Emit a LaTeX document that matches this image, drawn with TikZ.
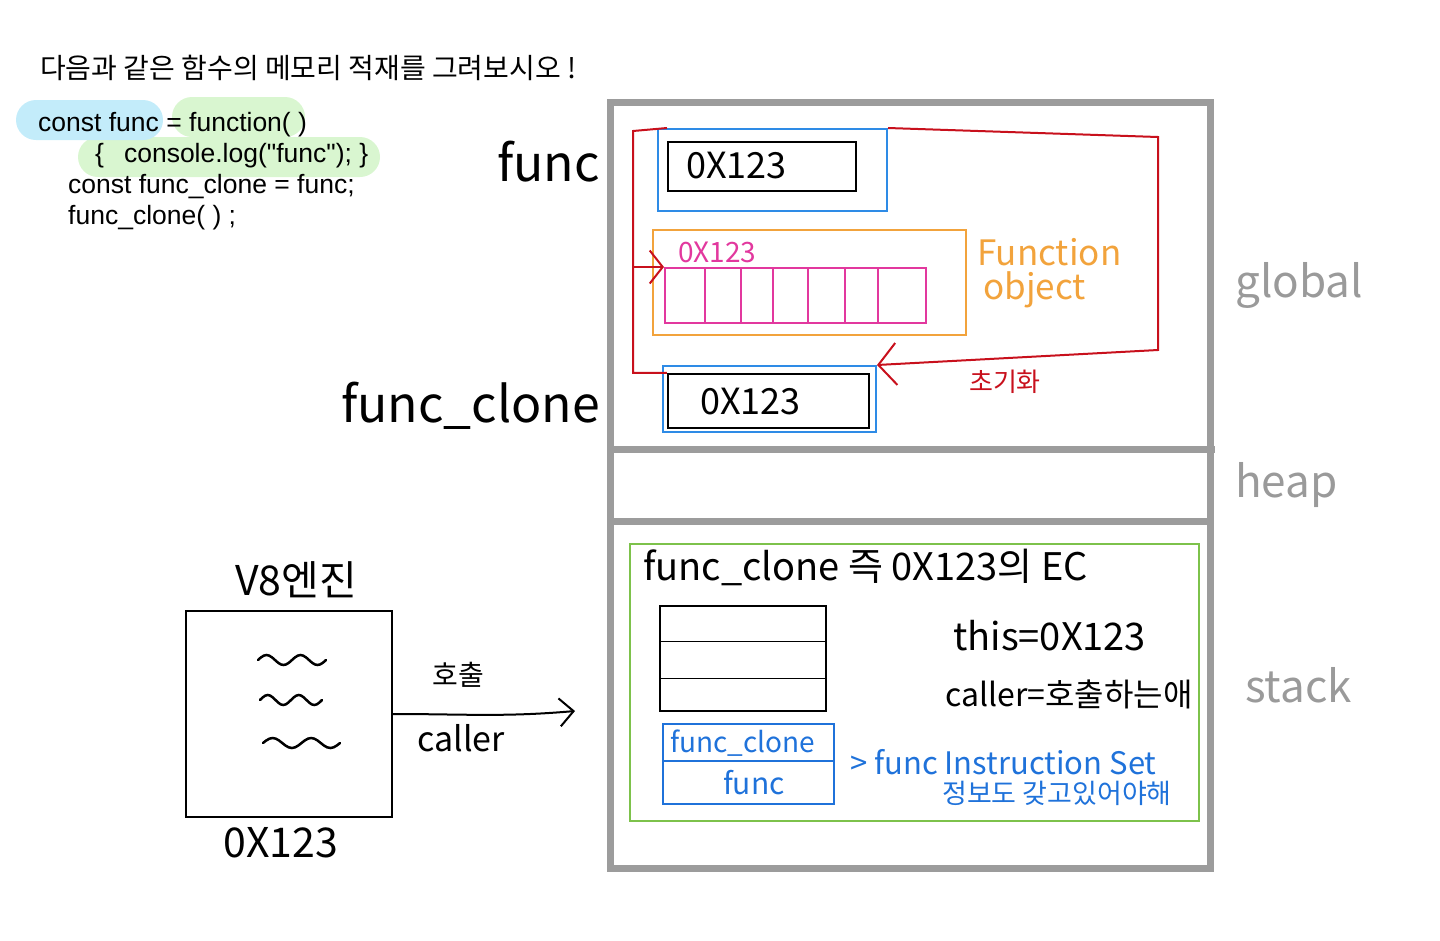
\documentclass[tikz,border=0pt]{standalone}
\usepackage{fontspec}
\setmainfont{Liberation Sans}[Ligatures=TeXOff]
\newfontfamily\krfont{Noto Sans CJK KR}
\usepackage{tikz}
\usetikzlibrary{arrows.meta,calc,positioning}

\definecolor{boxgray}{HTML}{9C9C9C}
\definecolor{labelgray}{HTML}{9A9A9A}
\definecolor{slotblue}{HTML}{2E8BE6}
\definecolor{inkblue}{HTML}{1F72DA}
\definecolor{objorange}{HTML}{F2A33C}
\definecolor{cellpink}{HTML}{E2389E}
\definecolor{inkred}{HTML}{C8101C}
\definecolor{ecgreen}{HTML}{7DC24B}
\definecolor{hlblue}{HTML}{C3ECFA}
\definecolor{hlgreen}{HTML}{D9F6D0}

\tikzset{
  hand/.style={font=\krfont\fontsize{#1}{#1}\selectfont, inner sep=0pt},
  codeline/.style={font=\fontsize{26.5}{26.5}\selectfont, anchor=base west, inner sep=0pt},
  slot/.style={draw=slotblue, line width=2pt},
  valbox/.style={draw=black, line width=2.5pt},
  redline/.style={draw=inkred, line width=2pt},
  ptrbox/.style={draw=inkblue, line width=2pt},
}

\begin{document}
\begin{tikzpicture}[x=1pt,y=-1pt]
  \useasboundingbox (0,0) rectangle (1440,940);

  % Question
  \node[hand=28,anchor=base west] (question) at (40,78)
    {다음과 같은 함수의 메모리 적재를 그려보시오 !};

  % Code highlights
  \fill[hlgreen,rounded corners=20pt] (172,97) rectangle (305,137);
  \fill[hlgreen,rounded corners=20pt] (78,137) rectangle (380,177);
  \fill[hlblue,rounded corners=20pt] (16,100) rectangle (163,140);

  % Code
  \node[codeline] (line1) at (38,131) {const func = function( )};
  \node[codeline] (line2) at (95,162) {\{\hspace{20pt}console.log("func"); \}};
  \node[codeline] (line3) at (68,193) {const func\_clone = func;};
  \node[codeline] (line4) at (68,224) {func\_clone( ) ;};

  % Variable names
  \node[hand=50,anchor=east] (funclbl) at (600,162) {func};
  \node[hand=50,anchor=east] (clonelbl) at (600,406) {func\_clone};

  % Memory frame
  \node[draw=boxgray,line width=7pt,minimum width=600pt,minimum height=766pt]
    (memory) at (910,485) {};
  \draw[boxgray,line width=7pt] (610,449) -- (1215,449);
  \draw[boxgray,line width=7pt] (610,521) -- (1210,521);

  % Global: func slot
  \node[slot,minimum width=229pt,minimum height=82pt] (funcslot) at (772.5,170) {};
  \node[valbox,minimum width=188pt,minimum height=49pt] (funcval) at (762,166.5) {};
  \node[hand=36,anchor=west] (funcaddr) at (686,166) {0X123};

  % Function object
  \node[draw=objorange,line width=2pt,minimum width=313pt,minimum height=105pt]
    (funcobj) at (809.5,282.5) {};
  \node[hand=28,anchor=west,text=cellpink] (objaddr) at (678,252) {0X123};
  \node[draw=cellpink,line width=2pt,minimum width=261pt,minimum height=55pt]
    (cells) at (795.5,295.5) {};
  \foreach \cx in {705,741,773,808,845,878}
    \draw[cellpink,line width=1.6pt] (\cx,0 |- cells.north) -- (\cx,0 |- cells.south);
  \node[hand=35,anchor=west,text=objorange] (objlbl) at (977,252) {Function};
  \node[hand=35,anchor=west,text=objorange] (objlbl2) at (983,290) {object};

  % Global: func_clone slot
  \node[slot,minimum width=213pt,minimum height=66pt] (cloneslot) at (769.5,399) {};
  \node[valbox,minimum width=201pt,minimum height=54pt] (cloneval) at (768.5,401) {};
  \node[hand=36,anchor=west] (cloneaddr) at (700,402) {0X123};

  % Initialisation
  \draw[redline] ([xshift=10pt]funcslot.north west) -- ++(-34,3) coordinate (bustop)
    |- (cloneval.north west);
  \draw[redline,-{Straight Barb[length=13pt,width=33pt,line width=2pt]}]
    (bustop |- cells.north) -- (cells.north west);
  \draw[redline,-{Straight Barb[length=18pt,width=42pt,line width=2pt]}]
    (funcslot.north east) -- (1158,137) -- (1158,350) -- (cloneslot.north east);
  \node[hand=26,text=inkred] (initlbl) at (1005,382) {초기화};

  % Region labels
  \node[hand=44,text=labelgray,anchor=west] (globallbl) at (1235,285) {global};
  \node[hand=44,text=labelgray,anchor=west] (heaplbl) at (1235,485) {heap};
  \node[hand=44,text=labelgray,anchor=west] (stacklbl) at (1245,685) {stack};

  % Stack: execution context
  \node[draw=ecgreen,line width=2pt,minimum width=569pt,minimum height=277pt]
    (ec) at (914.5,682.5) {};
  \node[hand=38,anchor=west] (ectitle) at (643,567) {func\_clone 즉 0X123의 EC};
  \node[draw,line width=1.5pt,minimum width=166pt,minimum height=105pt]
    (frame) at (743,658.5) {};
  \draw[line width=1.5pt] ($(frame.north west)!0.34!(frame.south west)$)
    -- ($(frame.north east)!0.34!(frame.south east)$);
  \draw[line width=1.5pt] ($(frame.north west)!0.69!(frame.south west)$)
    -- ($(frame.north east)!0.69!(frame.south east)$);
  \node[hand=38,anchor=west] (thislbl) at (953,636) {this=0X123};
  \node[hand=32,anchor=west] (callerlbl) at (945,694) {caller=호출하는애};

  % Pointer box
  \node[ptrbox,minimum width=171pt,minimum height=37pt] (ptrtop) at (748.5,742.5) {};
  \node[ptrbox,minimum width=171pt,minimum height=43pt] (ptrbot) at (748.5,782.5) {};
  \node[hand=28,anchor=west,text=inkblue] (ptrclone) at (670,743) {func\_clone};
  \node[hand=30,text=inkblue] (ptrfunc) at (754,783) {func};
  \node[hand=31,anchor=west,text=inkblue] (instrlbl) at (850,762) {> func Instruction Set};
  \node[hand=27,anchor=west,text=inkblue] (instrnote) at (942,793) {정보도 갖고있어야해};

  % V8 engine
  \node[hand=41] (v8lbl) at (296,580) {V8엔진};
  \node[draw,line width=2pt,minimum size=206pt] (engine) at (289,714) {};
  \foreach \sy/\sx/\sw in {660/258/68,700/260/62,743/263/77}
    \draw[line width=2.5pt,line cap=round]
      plot[smooth,domain=0:1,samples=25] ({\sx+\sw*\x},{\sy-5*sin(720*\x)});
  \node[hand=41] (engineaddr) at (281,843) {0X123};

  % Call
  \coordinate (callend) at (575,711);
  \draw[line width=2pt,-{Straight Barb[length=14pt,width=28pt,line width=2pt]}]
    (engine.east) to[out=0,in=185] (callend);
  \node[hand=28] (calllbl) at (458,675) {호출};
  \node[hand=34] (callerarrow) at (461,738) {caller};
\end{tikzpicture}
\end{document}
